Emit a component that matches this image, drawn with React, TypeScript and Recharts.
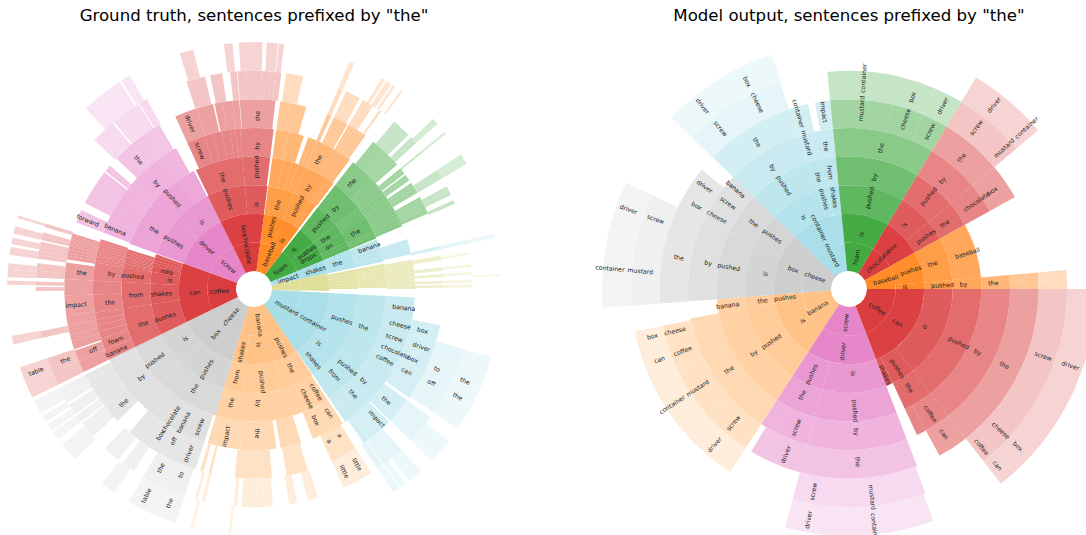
import { PieChart, Pie, Cell } from 'recharts';

// Each ring is a list of runs. A run holds cut angles in degrees, clockwise from east,
// and a word after a cut names the cell that starts at that cut.
type Run = (number | string)[];

const leftColors = ['#9edae5', '#ffbb78', '#c7c7c7', '#d62728', '#e377c2', '#d62728', '#ff7f0e', '#2ca02c', '#9edae5', '#dbdb8d'];
const rightColors = ['#d62728', '#e377c2', '#ffbb78', '#c7c7c7', '#9edae5', '#2ca02c', '#d62728', '#ff7f0e'];
const ringOpacity = [0.9, 0.88, 0.76, 0.68, 0.56, 0.44, 0.27, 0.2];

const leftRing1: Run[] = [[3, 'mustard', 56, 'banana', 107, 'cheese', 154, 'coffee', 200, 'screw', 243.5, 'chocolate', 277.8, 'baseball', 308, 'foam', 337.5, 'impact', 348, '', 362]];
const leftRing2: Run[] = [
  [3, 'container', 56, 'pushes', 73.5, 'is', 96, 'shakes', 107, 'box', 154, 'can', 200, 'driver', 243.5, 'box', 277.8, 'pushes', 293, 'is', 306.5],
  [308, 'is', 322, 'pushes', 327.5, 'drops', 333, 337.5, 'shakes', 348, 361.5],
];
const leftRing3: Run[] = [
  [3, 'pushes', 35, 'is', 44.5, 'shakes', 55.5],
  [56, 'the', 73.5, 'pushed', 96, 'from', 107, 'pushes', 135, 'is', 154, 'pushes', 171.5, 'shakes', 183, 'is', 189.5, 'rolls', 193, 194.5, 196, 198, 199.5],
  [200, 'pushes', 221.5, 'is', 243.5, 'pushes', 265, 'is', 277.5],
  [278, 'the', 293, 'pushed', 302, 303, 304.5, 306.5],
  [308, 'pushed', 322, 'the', 327.5, 'on', 333, 335, 337.5, 'the', 348],
  [349, 351, 353, 355, 357, 360],
];
const leftRing4: Run[] = [
  [3, 'the', 35, 'pushed', 44.5, 'from', 49, 50.5, 51.5, 52.5, 53.5, 54.5, 55.5],
  [56.5, 'coffee', 61, 'cheese', 67, 70.5, 73.5, 76, 79.5, 'by', 96, 'the', 107, 'the', 135, 'pushed', 154],
  [154, 'the', 171.5, 'from', 183, 'pushed', 189.5, 190.5, 191.2, 192, 192.7, 193.4, 194, 194.7, 195.4, 196, 196.7, 197.5],
  [200, 'the', 221.5, 'pushed', 235, 236, 237, 238, 239, 240, 241, 242, 243],
  [244, 'the', 265, 'pushed', 277],
  [278, 283, 287, 289.5, 293, 'by', 303, 304, 305, 306, 307],
  [308, 'by', 322, 323, 324, 325, 326, 327.5, 'the', 334, 335, 336, 337.5],
  [338, 'banana', 342, 344, 346, 348],
  [349, 351, 352, 353, 354, 355, 356, 357, 358, 359.5],
];
const leftRing5: Run[] = [
  [3, 'banana', 11, 'cheese', 16.5, 'screw', 21.5, 'chocolate', 26, 'coffee', 30.5, 32.5, 35, 'by', 44.5, 'the', 48.5, 49.5, 50.5, 51.5, 52.5, 53.5, 54.5, 55.5],
  [56.5, 'can', 61, 'box', 68.5],
  [73, 75, 77.5, 80.5],
  [82, 'the', 95, 'impact', 106.7],
  [108, 'screw', 115.5, 'banana', 120.5, 'chocolate', 125, 128, 131, 135, 'by', 149, 150.5, 152, 153, 154],
  [154, 'banana', 157.7, 'foam', 162, 164.7, 167, 169, 171.5, 'the', 178, 180, 183, 'by', 189.5, 190.5, 191.5, 192.3, 193, 194, 195, 196, 197, 198],
  [200.5, 'banana', 206, 210.5, 214, 216, 219, 221, 'by', 234, 235, 236, 237, 238, 239, 240, 241],
  [245.5, 'screw', 252, 255, 258.5, 261.4, 263.3, 265, 'by', 277],
  [278, 282.5, 288],
  [289.7, 291, 293, 'the', 299.5, 300.5, 301.5, 303, 304.5, 305.5, 306.5],
  [308, 'the', 317, 318, 319, 320, 321, 322, 323.5, 325, 326.5, 327.5, 329, 330, 331, 332, 333, 334, 335.5, 337],
  [342, 344.5, 347.5],
  [349.5, 351, 352.5, 354, 355.5, 357, 358.3, 360],
];
const leftRing6: Run[] = [
  [11, 'box', 16.5, 'driver', 21.5, 'box', 26, 'can', 30.5, 32.5, 35],
  [36, 'the', 44],
  [44.5, 'impact', 48.5, 50, 51, 52.5, 54.5],
  [57.5, 'a', 61.5, 'a', 65.7],
  [73.5, 75.5, 78, 80],
  [84.5, 87.3, 89, 91.2, 93.7, 95.8],
  [103, 103.8],
  [105.5, 106.5],
  [108, 'driver', 115.5, 'off', 120.5, 'box', 125, 128, 131],
  [136, 'the', 142, 143, 144, 145, 146, 147, 148, 149, 150, 151, 152, 153],
  [154, 157.7, 'off', 161],
  [161.5, 164, 166, 169, 172, 'impact', 178, 180, 183, 'the', 188],
  [189, 190, 191, 192, 193, 193.8, 194.6, 195.4, 196.2, 197],
  [200.5, 'forward', 204.5],
  [207, 210.5, 214, 218],
  [218.5, 219.5, 220.5],
  [223.5, 'the', 233, 234, 235, 236, 237, 238, 239, 240],
  [245.5, 'driver', 252.5, 257.5],
  [258, 260.4, 263.4, 265.5],
  [265.7, 'the', 276.5],
  [278, 281, 286],
  [292.8, 294],
  [295, 295.8, 296.5, 297.2, 298, 298.8, 299.5],
  [300, 301, 302, 303, 304, 305, 306],
  [309, 313, 314, 315, 316, 317, 318, 319],
  [320.5, 321.5, 322.5],
  [323, 324, 325],
  [326, 327, 328, 329.5],
  [331, 332, 333, 334, 335, 336.5],
  [347, 348],
  [349.8, 351.2],
  [353.4, 354.5],
  [355.5, 356.3],
  [357.5, 358.3],
  [358.8, 359.6],
];
const leftRing7: Run[] = [
  [16, 21.5, 'to', 25.5, 'off', 30, 34.5],
  [36, 37, 38, 39, 40, 41, 42, 43, 44],
  [47.5, 49, 50.5, 52],
  [52, 53.5],
  [53.8, 55.5],
  [57.5, 'little', 61.5, 'little', 65.7],
  [73, 75.7],
  [78.6, 80.7],
  [85, 87.3, 89, 91.2, 93.2],
  [94.5, 95.3],
  [103, 103.8],
  [105, 105.7],
  [108.5, 'to', 114.7, 'the', 120.5],
  [123.5, 127],
  [128.5, 129.3, 130, 130.8, 131.5, 132.2, 133],
  [137.5, 139, 140.5, 142],
  [142.5, 143.5, 144.5],
  [145, 146, 147, 148],
  [148.7, 149.5, 150.3, 151, 152, 153],
  [154, 157.5, 'the', 161.5],
  [167, 168.8],
  [179.5, 180.5],
  [181, 182],
  [183, 184.8, 186.8],
  [188, 189, 190, 191.2, 192.5],
  [193, 194, 195],
  [196.5, 197.5],
  [223, 224, 225, 226, 227, 228, 229.5],
  [230, 231, 232, 233, 234, 235, 236, 237, 238],
  [238.3, 240.5],
  [252, 257],
  [258.4, 261.6],
  [263.7, 265.5],
  [265.7, 268, 270, 272, 274.5, 275.7, 277.2],
  [278.5, 283],
  [292.8, 294],
  [295, 295.8, 296.5, 297.2, 298, 299],
  [300, 301, 302, 303],
  [305, 305.6],
  [310, 312.5, 315],
  [316, 317, 318],
  [320.5, 321],
  [327, 328.5, 329.5],
  [332, 333.2, 334.5],
  [336, 337],
  [347, 348],
  [350.4, 351],
  [353.5, 354.2],
  [355.5, 356.2],
  [357.5, 358.3],
  [358.8, 359.6],
];
const leftRing8: Run[] = [
  [16, 21.5, 'the', 25.5, 'the', 30, 34.5],
  [38, 39, 40, 41, 42, 43, 44],
  [47.5, 49, 51],
  [52, 53.5],
  [53.8, 55.5],
  [95.3, 95.9],
  [104.2, 104.9],
  [108.5, 'the', 114.7, 'table', 120.5],
  [124.5, 128],
  [136.5, 138, 139.5, 141],
  [142.5, 143.5, 144.5],
  [145, 146, 146.7],
  [147.5, 148.3, 149],
  [149.7, 150.5, 151.2, 152, 153],
  [154, 157.3, 'table', 161.5],
  [167, 169],
  [181, 182],
  [182.8, 184.5, 186],
  [188, 189.8],
  [190.5, 192],
  [193, 194.7],
  [196.7, 197.3],
  [227, 228, 229, 230, 231, 232, 233, 234, 235, 236, 237],
  [237.5, 238, 238.5, 239.2, 239.8],
  [252.5, 255.7],
  [263, 265],
  [266.5, 269, 272],
  [273, 275.6],
  [275.8, 277],
  [292.8, 294],
  [301.2, 302],
  [302.5, 303.2, 303.8],
  [304.3, 304.9],
  [306.5, 307],
  [316.5, 318],
  [320.5, 321],
  [327, 328.2, 329.5],
  [347, 348],
  [356.5, 357],
];

const rightRing1: Run[] = [[0, 'coffee', 69, 'screw', 123, 'banana', 175.6, 'cheese', 224, 'mustard', 264.3, 'foam', 301, 'chocolate', 331, 'baseball', 360]];
const rightRing2: Run[] = [[0, 'can', 69, 'driver', 123, 'is', 169.4, 'pushes', 175.6, 'box', 224, 'container', 264.3, 'is', 301, 'box', 331, 'pushes', 355, 'is', 360]];
const rightRing3: Run[] = [[0, 'is', 52, 'pushes', 65, 'shakes', 69, 'is', 105, 'pushes', 123, 'pushed', 169.4, 'the', 175.6, 'is', 205.5, 'pushes', 224, 'is', 252, 'pushes', 257.5, 'shakes', 264.3, 'pushed', 301, 'is', 320, 'pushes', 331, 'the', 355, 'pushed', 360]];
const rightRing4: Run[] = [
  [0, 'pushed', 52, 'the', 65],
  [69, 'pushed', 105, 'the', 123, 'by', 169.4, 'banana', 175.6, 'pushed', 205.5, 'the', 224, 'pushed', 252, 'the', 257.5, 'from', 264.3, 'by', 301, 'pushed', 320, 'the', 331, 'baseball', 355, 'by', 360],
];
const rightRing5: Run[] = [
  [0, 'by', 52, 'coffee', 61.5, 65],
  [69, 'by', 105, 'screw', 117, 120.7, 123, 'the', 169.4],
  [175.6, 'by', 205.5, 'cheese', 212, 'screw', 219, 'banana', 224, 'by', 252, 'mustard', 256, 257.5, 'the', 264.3, 'the', 301, 'by', 320, 'chocolate', 331],
  [355, 'the', 360],
];
const rightRing6: Run[] = [
  [0, 'the', 52, 'can', 61.5],
  [69, 'the', 105, 'driver', 117, 119.5, 121],
  [123, 'screw', 138.8, 'mustard', 155, 'coffee', 164.3, 'cheese', 168.8],
  [175.6, 'the', 205.5, 'box', 212, 'driver', 219],
  [224, 'the', 252, 'container', 256, 257.5],
  [259.7, 'impact', 264.3, 'mustard', 283.4, 'cheese', 293, 'screw', 301, 'the', 320, 'box', 331],
  [355, 357.5, 360],
];
const rightRing7: Run[] = [
  [0, 'screw', 38, 'cheese', 47.8, 'coffee', 52],
  [69.5, 'mustard', 97.6, 'screw', 102.5, 105],
  [123, 'driver', 138.8, 'container', 155, 'can', 164.3, 'box', 168.8],
  [175.6, 'mustard', 194.4, 'screw', 205.5],
  [224, 'screw', 238.8, 'cheese', 249, 250, 251.5],
  [264.3, 'container', 283.4, 'box', 293, 'driver', 301, 'screw', 315.3, 'mustard', 320],
  [355, 357.5, 360],
];
const rightRing8: Run[] = [
  [0, 'driver', 38, 'box', 47.8, 'can', 52],
  [70, 'container', 97.6, 'driver', 102.5, 105],
  [175.6, 'container', 194.4, 'driver', 205.5],
  [224, 'driver', 238.8, 'box', 249, 250, 251.8],
  [301, 'driver', 315.3, 'container', 320],
];

const leftRings = [leftRing1, leftRing2, leftRing3, leftRing4, leftRing5, leftRing6, leftRing7, leftRing8];
const rightRings = [rightRing1, rightRing2, rightRing3, rightRing4, rightRing5, rightRing6, rightRing7, rightRing8];

const ringInner = 18;
const ringWidth = 28.6;
const wordInset = 7;

// same look as an alpha fill on the white page
const onWhite = (hex: string, alpha: number) => {
  const mix = (at: number) => Math.round(parseInt(hex.slice(at, at + 2), 16) * alpha + 255 * (1 - alpha));
  return `rgb(${mix(1)},${mix(3)},${mix(5)})`;
};

// turn the runs into cells with from/to angles and a word
const toCells = (ring: Run[]) => {
  const cells: { from: number; to: number; word: string }[] = [];
  ring.forEach((run) => {
    let from: number | null = null;
    let word = '';
    run.forEach((item) => {
      if (typeof item === 'string') {
        word = item;
      } else {
        if (from !== null) cells.push({ from, to: item, word });
        from = item;
        word = '';
      }
    });
  });
  return cells;
};

// pie rows for one ring: real cells plus empty rows for the gaps
const toRows = (ring: Run[], top: Run[], colors: string[], start: number, alpha: number) => {
  const groups = toCells(top);
  const rows: { value: number; word: string; fill: string }[] = [];
  let at = start;
  toCells(ring).forEach((c) => {
    if (c.from > at + 0.001) rows.push({ value: c.from - at, word: '', fill: 'none' });
    const mid = (c.from + c.to) / 2;
    const g = groups.findIndex((t) => mid >= t.from && mid < t.to);
    rows.push({ value: c.to - c.from, word: c.word, fill: onWhite(colors[g < 0 ? 0 : g], alpha) });
    at = c.to;
  });
  if (at < start + 360) rows.push({ value: start + 360 - at, word: '', fill: 'none' });
  return rows;
};

// words start a little past the inner edge of the ring and run outwards
const wordLabel = (cx: number, cy: number, radius: number) => (props: any) => {
  const word = props.word ?? props.payload?.word;
  if (!word) return <g />;
  const a = (((-props.midAngle) % 360) + 360) % 360;
  const rad = (a * Math.PI) / 180;
  const x = cx + radius * Math.cos(rad);
  const y = cy + radius * Math.sin(rad);
  const flipped = a > 90 && a < 270;
  return (
    <text
      x={x}
      y={y}
      textAnchor={flipped ? 'end' : 'start'}
      dominantBaseline="central"
      fontSize={6.2}
      fill="#222"
      fontFamily="DejaVu Sans"
      transform={`rotate(${flipped ? a - 180 : a} ${x} ${y})`}
    >
      {word}
    </text>
  );
};

const renderRings = (rings: Run[][], colors: string[], cx: number, cy: number, start: number, id: string) => {
  const all = rings.map((ring, i) => toRows(ring, rings[0], colors, start, ringOpacity[i]));
  const inner = (i: number) => ringInner + i * ringWidth;
  return [
    ...all.map((rows, i) => (
      <Pie
        key={`${id}-ring-${i}`}
        data={rows}
        dataKey="value"
        cx={cx}
        cy={cy}
        innerRadius={inner(i)}
        outerRadius={inner(i + 1)}
        startAngle={-start}
        endAngle={-start - 360}
        isAnimationActive={false}
        labelLine={false}
      >
        {rows.map((row, j) => (
          <Cell
            key={`c-${j}`}
            fill={row.fill}
            stroke={row.fill === 'none' ? 'none' : '#fff'}
            strokeWidth={0.8}
          />
        ))}
      </Pie>
    )),
    // words go in a second pass so that long ones stay on top of the next ring
    ...all.map((rows, i) => (
      <Pie
        key={`${id}-words-${i}`}
        data={rows}
        dataKey="value"
        cx={cx}
        cy={cy}
        innerRadius={inner(i)}
        outerRadius={inner(i + 1)}
        startAngle={-start}
        endAngle={-start - 360}
        fill="none"
        stroke="none"
        isAnimationActive={false}
        labelLine={false}
        label={wordLabel(cx, cy, inner(i) + wordInset)}
      />
    )),
  ];
};

const titleStyle = {
  position: 'absolute' as const,
  top: 6,
  width: 500,
  textAlign: 'center' as const,
  fontFamily: 'DejaVu Sans',
  fontSize: 16.6,
  color: '#000',
  whiteSpace: 'nowrap' as const,
};

export default function App() {
  return (
    <div style={{ position: 'absolute', left: 0, top: 0, width: 1086, height: 535, overflow: 'hidden', background: '#fff' }}>
      <div style={{ ...titleStyle, left: 4 }}>Ground truth, sentences prefixed by "the"</div>
      <div style={{ ...titleStyle, left: 599 }}>Model output, sentences prefixed by "the"</div>
      <PieChart width={1086} height={535} margin={{ top: 0, right: 0, bottom: 0, left: 0 }}>
        {renderRings(leftRings, leftColors, 254, 289, 3, 'left')}
        {renderRings(rightRings, rightColors, 849, 289, 0, 'right')}
      </PieChart>
    </div>
  );
}
